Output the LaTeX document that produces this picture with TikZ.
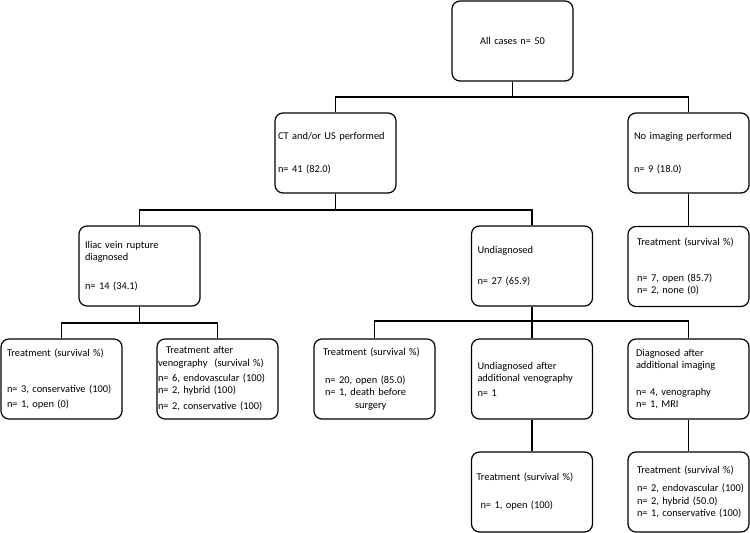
\documentclass[tikz,border=0pt]{standalone}
\usepackage{fontspec}
\setmainfont{Carlito}
\usetikzlibrary{positioning}
\begin{document}
\begin{tikzpicture}
[x=1pt,y=-1pt,line width=1.2pt,
box/.style = {draw, rounded corners=8pt, text width=121pt, minimum height=80pt, inner xsep=0pt, align=left, font=\fontsize{10.4}{12.4}\selectfont},
pad/.style = {execute at begin node={\leftskip=#1\rightskip=-10pt plus 1fil\relax}},]
\useasboundingbox (0,0) rectangle (750,533);
\node (all) at (512.5,41)[box,align=center] {All cases n= 50};
\node (ct) at (335.5,153)[box,pad=3pt] {CT and/or US performed\\[21pt] n= 41 (82.0)};
\node (noimg) at (688.5,153)[box,pad=6pt] {No imaging performed\\[21pt] n= 9 (18.0)};
\node (iliac) at (139.5,266)[box,pad=6pt] {Iliac vein rupture\\ diagnosed\\[16pt] n= 14 (34.1)};
\node (undiag) at (532,266)[box,pad=6pt] {Undiagnosed\\[19pt] n= 27 (65.9)};
\node (noimgtr) at (688.5,266.5)[box,pad=9pt] {Treatment (survival \%)\\[23pt] n= 7, open (85.7)\\ n= 2, none (0)};
\node (tr1) at (61.5,379)[box,pad=6pt] {Treatment (survival \%)\\[23pt] n= 3, conservative (100)\\[2.5pt] n= 1, open (0)};
\node (trven) at (217.5,379)[box,pad=1pt] {\hspace*{8pt}Treatment after\\ venography\ \ (survival \%)\\[3pt] n= 6, endovascular (100)\\ n= 2, hybrid (100)\\[3.5pt] n= 2, conservative (100)};
\node (trund) at (374.5,379)[box,pad=9pt] {Treatment (survival \%)\\[15.5pt] \hspace*{2pt}n= 20, open (85.0)\\ \hspace*{2pt}n= 1, death before\\ \hspace*{32pt}surgery};
\node (undven) at (532,379)[box,pad=6pt] {Undiagnosed after\\ additional venography\\[2pt] n= 1};
\node (diag) at (688.5,379)[box,pad=8pt] {Diagnosed after\\ additional imaging\\[14pt] n= 4, venography\\ n= 1, MRI};
\node (undventr) at (532,492)[box,pad=5pt] {Treatment (survival \%)\\[15.6pt] \hspace*{4pt}n= 1, open (100)};
\node (diagtr) at (688.5,492)[box,pad=9pt] {Treatment (survival \%)\\[6pt] n= 2, endovascular (100)\\ n= 2, hybrid (50.0)\\ n= 1, conservative (100)};
\coordinate (busA) at (512.5,97);
\coordinate (busC) at (335.5,210);
\coordinate (busI) at (139.5,323);
\coordinate (busU) at (532,321);
\draw (all) -- (busA);
\draw (ct.north) |- (busA) -| (noimg.north);
\draw (ct) -- (busC);
\draw (iliac.north) |- (busC) -| (undiag.north);
\draw (noimg) -- (noimgtr);
\draw (iliac) -- (busI);
\draw (tr1.north) |- (busI) -| (trven.north);
\draw (undiag) -- (undven);
\draw (trund.north) |- (busU) -| (diag.north);
\draw (undven) -- (undventr);
\draw (diag) -- (diagtr);
\end{tikzpicture}
\end{document}
